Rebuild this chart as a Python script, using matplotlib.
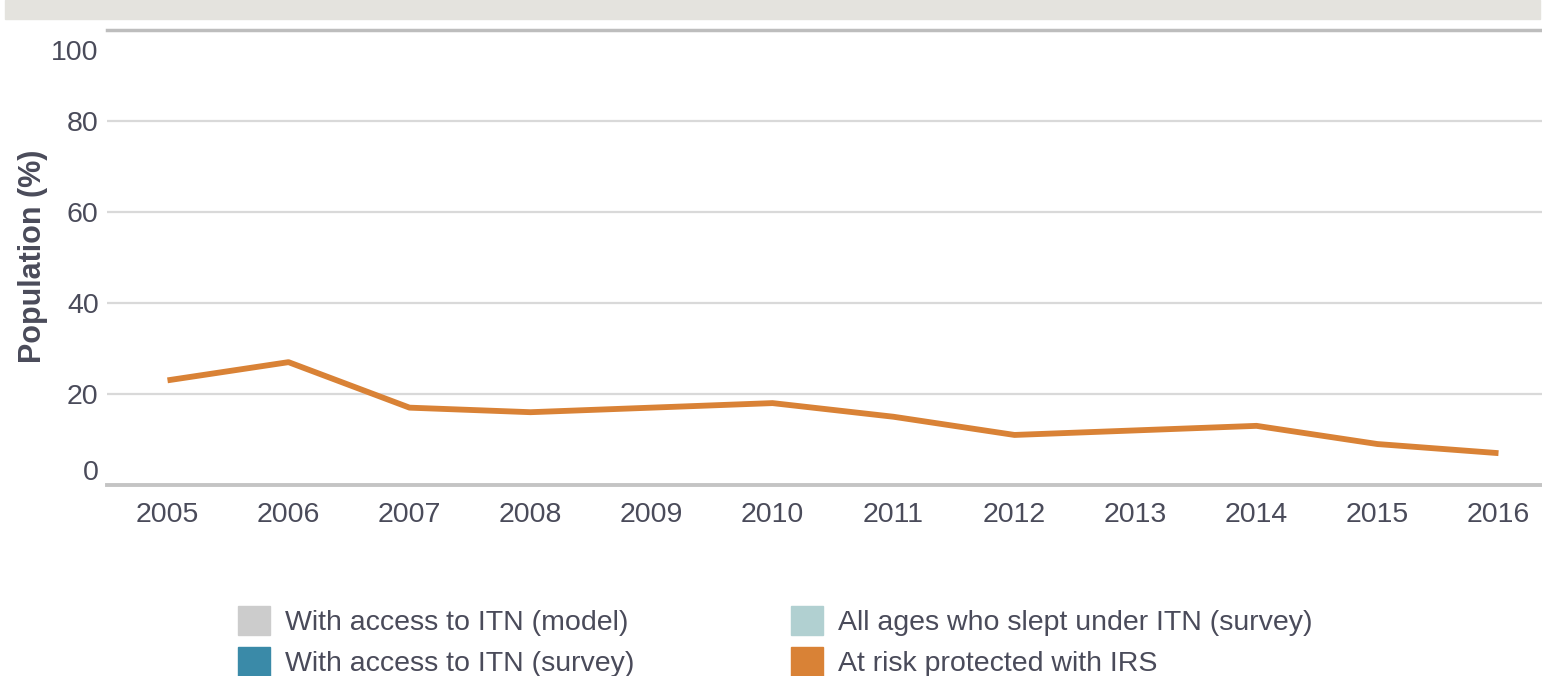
import matplotlib.pyplot as plt
from matplotlib.patches import Rectangle
from matplotlib.transforms import ScaledTranslation

plt.rcParams['font.family'] = ['Liberation Sans', 'DejaVu Sans']

# data
years = [2005, 2006, 2007, 2008, 2009, 2010, 2011, 2012, 2013, 2014, 2015, 2016]
irs = [23, 27, 17, 16, 17, 18, 15, 11, 12, 13, 9, 7]
yticks = [0, 20, 40, 60, 80, 100]

legend_labels = ['With access to ITN (model)', 'With access to ITN (survey)',
                 'All ages who slept under ITN (survey)', 'At risk protected with IRS']
legend_colors = ['#cccccc', '#3a8aa8', '#b1d0d1', '#d98236']

text_col = '#4a4b5a'

fig = plt.figure(figsize=(15.42, 6.76), dpi=100)

# grey title banner at the top (title text is cut off in the source)
fig.patches.append(Rectangle((5 / 1542, 1 - 19 / 676), 1535 / 1542, 19 / 676,
                             transform=fig.transFigure, color='#e4e3de', zorder=0))

ax = fig.add_axes([107 / 1542, (676 - 485) / 676, (1559 - 107) / 1542, 455 / 676])
ax.set_xlim(2004.5, 2016.5)
ax.set_ylim(0, 100)

for v in yticks[1:-1]:
    ax.axhline(v, color='#d9d9d9', lw=1.6, zorder=1)
ax.axhline(100, color='#bdbdbd', lw=2.5, zorder=1, clip_on=False)
ax.axhline(0, color='#c4c4c4', lw=2.8, zorder=1, clip_on=False)

ax.plot(years, irs, color='#d98236', lw=4.2, solid_capstyle='butt', zorder=3)

for s in ax.spines.values():
    s.set_visible(False)

ax.set_xticks(years)
ax.set_xticklabels([str(y) for y in years])
ax.set_yticks(yticks)
ax.set_yticklabels([str(v) for v in yticks])
ax.tick_params(length=0, labelsize=20.5, colors=text_col)
ax.tick_params(axis='x', pad=12)
ax.tick_params(axis='y', pad=6)

ylabs = ax.get_yticklabels()
ylabs[0].set_transform(ylabs[0].get_transform() + ScaledTranslation(0, 0.15, fig.dpi_scale_trans))
ylabs[-1].set_transform(ylabs[-1].get_transform() + ScaledTranslation(0, -0.20, fig.dpi_scale_trans))

ax.set_ylabel('Population (%)', fontsize=22, fontweight='bold', color=text_col)
ax.yaxis.set_label_coords(-0.0405, 0.502)

# legend in two columns
handles = [Rectangle((0, 0), 1, 1, color=c) for c in legend_colors]
fig.legend(handles, legend_labels, ncol=2, loc='upper left',
           bbox_to_anchor=(232 / 1542, 1 - 600 / 676), frameon=False,
           fontsize=20.5, labelcolor=text_col, handlelength=1.15, handleheight=1.2,
           handletextpad=0.5, columnspacing=5.5, labelspacing=0.4, borderpad=0.2,
           borderaxespad=0)

fig.savefig('out.png', dpi=100)
